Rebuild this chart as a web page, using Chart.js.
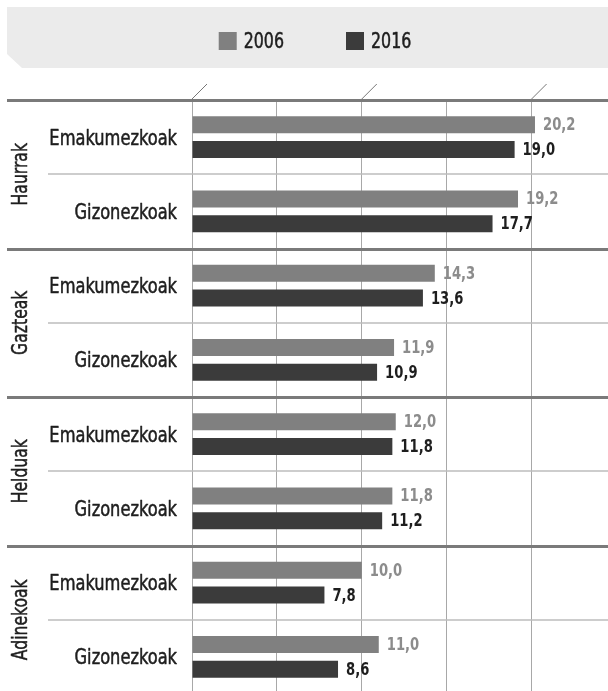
<!DOCTYPE html>
<html>
<head>
<meta charset="utf-8">
<script src="https://cdn.jsdelivr.net/npm/chart.js@4.4.1/dist/chart.umd.min.js"></script>
<style>
  html, body { margin: 0; padding: 0; background: #ffffff; overflow: hidden; }
  #wrap { position: relative; width: 608px; height: 700px; }
</style>
</head>
<body>
<div id="wrap"><canvas id="chart"></canvas></div>
<script>
// Age groups and the two rows inside each of them
const groups = ['Haurrak', 'Gazteak', 'Helduak', 'Adinekoak'];
const sexes = ['Emakumezkoak', 'Gizonezkoak'];
const categories = [
  'Emakumezkoak', 'Gizonezkoak',
  'Emakumezkoak', 'Gizonezkoak',
  'Emakumezkoak', 'Gizonezkoak',
  'Emakumezkoak', 'Gizonezkoak'
];
const seriesLabels = ['2006', '2016'];
const values2006 = [20.2, 19.2, 14.3, 11.9, 12.0, 11.8, 10.0, 11.0];
const values2016 = [19.0, 17.7, 13.6, 10.9, 11.8, 11.2, 7.8, 8.6];
const xTicks = [0, 5, 10, 15, 20];
const breakTicks = [0, 10, 20];

const FONT = '"DejaVu Sans Condensed", "Liberation Sans Narrow", "Roboto", "Liberation Sans", sans-serif';
const COL_2006 = '#808080';
const COL_2016 = '#3b3b3b';
const LABEL_COLORS = ['#8c8c8c', '#1e1e1e'];
const TEXT_COLOR = '#1e1e1e';

// text squeezed horizontally to get a narrow, condensed look;
// an optional thin outline makes it slightly heavier
function squeezedText(ctx, text, x, y, sx, weightStroke) {
  ctx.save();
  ctx.translate(x, y);
  ctx.scale(sx, 1);
  ctx.fillText(text, 0, 0);
  if (weightStroke) {
    ctx.strokeStyle = ctx.fillStyle;
    ctx.lineWidth = weightStroke;
    ctx.lineJoin = 'round';
    ctx.strokeText(text, 0, 0);
  }
  ctx.restore();
}

const decorations = {
  id: 'decorations',
  beforeDraw(chart) {
    const ctx = chart.ctx;
    ctx.save();
    // legend band with a clipped lower-left corner
    ctx.fillStyle = '#ebebeb';
    ctx.beginPath();
    ctx.moveTo(7, 7);
    ctx.lineTo(608, 7);
    ctx.lineTo(608, 68);
    ctx.lineTo(22, 68);
    ctx.lineTo(7, 54);
    ctx.closePath();
    ctx.fill();

    // legend entries
    const sxLegend = 0.8;
    ctx.font = '22px ' + FONT;
    ctx.textBaseline = 'middle';
    ctx.textAlign = 'left';
    const sq = 18, gapText = 7, gapItem = 62;
    const items = chart.data.datasets.map(ds => ({
      text: ds.label, color: ds.backgroundColor,
      w: ctx.measureText(ds.label).width * sxLegend
    }));
    let total = 0;
    items.forEach((it, i) => { total += sq + gapText + it.w + (i ? gapItem : 0); });
    let x = 315 - total / 2;
    const cy = 41;
    items.forEach(it => {
      ctx.fillStyle = it.color;
      ctx.fillRect(x, cy - sq / 2, sq, sq);
      ctx.fillStyle = TEXT_COLOR;
      squeezedText(ctx, it.text, x + sq + gapText, cy + 1, sxLegend, 0.5);
      x += sq + gapText + it.w + gapItem;
    });
    ctx.restore();
  },
  afterDraw(chart) {
    const ctx = chart.ctx;
    const ys = chart.scales.y;
    const xs = chart.scales.x;
    const area = chart.chartArea;
    ctx.save();

    // thin separators between the two rows of a group
    ctx.strokeStyle = '#bdbdbd';
    ctx.lineWidth = 1.5;
    for (let i = 1; i < categories.length; i += 2) {
      const y = Math.round(ys.getPixelForValue(i - 0.5));
      ctx.beginPath();
      ctx.moveTo(48, y);
      ctx.lineTo(area.right, y);
      ctx.stroke();
    }

    // heavy separators between age groups
    ctx.strokeStyle = '#7a7a7a';
    ctx.lineWidth = 3;
    for (let i = 0; i < categories.length; i += 2) {
      const y = Math.round(ys.getPixelForValue(i - 0.5)) + 0.5;
      ctx.beginPath();
      ctx.moveTo(7, y);
      ctx.lineTo(area.right, y);
      ctx.stroke();
    }

    // axis-break slashes above the top line
    ctx.strokeStyle = '#777777';
    ctx.lineWidth = 1;
    breakTicks.forEach(v => {
      const px = xs.getPixelForValue(v);
      ctx.beginPath();
      ctx.moveTo(px, area.top - 1);
      ctx.lineTo(px + 15, area.top - 16);
      ctx.stroke();
    });

    // row names, right-aligned against the plot
    ctx.font = '21px ' + FONT;
    ctx.fillStyle = TEXT_COLOR;
    ctx.textAlign = 'right';
    ctx.textBaseline = 'middle';
    categories.forEach((c, i) => {
      squeezedText(ctx, c, area.left - 15, ys.getPixelForValue(i) + 2, 0.86, 0.5);
    });

    // rotated group names
    ctx.font = '22px ' + FONT;
    ctx.textAlign = 'center';
    groups.forEach((g, gi) => {
      const y = (ys.getPixelForValue(gi * 2) + ys.getPixelForValue(gi * 2 + 1)) / 2;
      ctx.save();
      ctx.translate(21, y);
      ctx.rotate(-Math.PI / 2);
      squeezedText(ctx, g, 0, 0, 0.79, 0.5);
      ctx.restore();
    });

    // value labels at the end of each bar
    ctx.font = 'bold 17px ' + FONT;
    ctx.textAlign = 'left';
    ctx.textBaseline = 'middle';
    chart.data.datasets.forEach((ds, di) => {
      const meta = chart.getDatasetMeta(di);
      ctx.fillStyle = LABEL_COLORS[di];
      meta.data.forEach((bar, i) => {
        const txt = ds.data[i].toFixed(1).replace('.', ',');
        squeezedText(ctx, txt, bar.x + 8, bar.y + 1, 0.86);
      });
    });
    ctx.restore();
  }
};

new Chart(document.getElementById('chart'), {
  type: 'bar',
  data: {
    labels: categories,
    datasets: [
      { label: seriesLabels[0], data: values2006, backgroundColor: COL_2006 },
      { label: seriesLabels[1], data: values2016, backgroundColor: COL_2016 }
    ]
  },
  options: {
    indexAxis: 'y',
    responsive: true,
    maintainAspectRatio: false,
    animation: false,
    events: [],
    categoryPercentage: 0.673,
    barPercentage: 0.68,
    layout: { padding: { top: 100, right: 0, bottom: 6, left: 0 } },
    plugins: {
      legend: { display: false },
      tooltip: { enabled: false }
    },
    scales: {
      x: {
        type: 'linear',
        min: 0,
        max: 24.5,
        afterBuildTicks(scale) { scale.ticks = xTicks.map(v => ({ value: v })); },
        afterFit(scale) { scale.height = 0; },
        ticks: { display: false },
        border: { display: false },
        grid: { drawTicks: false, color: '#a8a8a8', lineWidth: 1 }
      },
      y: {
        type: 'category',
        afterFit(scale) { scale.width = 192; },
        ticks: { display: false },
        border: { display: false },
        grid: { display: false, drawTicks: false }
      }
    }
  },
  plugins: [decorations]
});
</script>
</body>
</html>
